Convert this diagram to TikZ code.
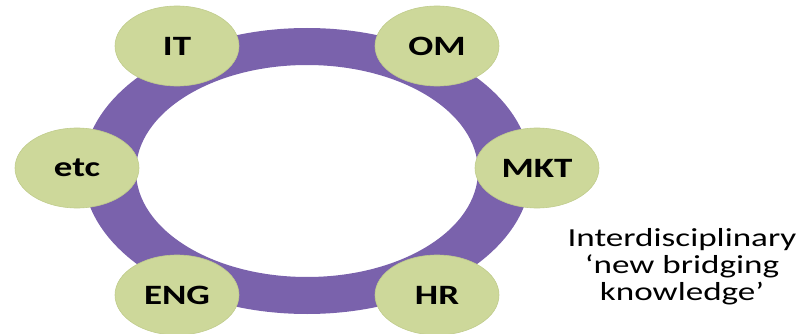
\documentclass[tikz,border=0pt]{standalone}
\usepackage{fontspec}
\setmainfont{Carlito}
\usetikzlibrary{shapes.geometric}
\definecolor{ringpurple}{HTML}{7A62AC}
\definecolor{discgreen}{HTML}{CDD89A}
\definecolor{discedge}{HTML}{C0CC8C}
\begin{document}
\begin{tikzpicture}[x=1pt,y=-1pt,
  disc/.style={ellipse, draw=discedge, line width=0.6pt, fill=discgreen, minimum width=124pt, minimum height=80pt, inner sep=0pt,
    font=\fontsize{28}{30}\selectfont\bfseries, text=black},
  note/.style={align=center, font=\fontsize{26}{27}\selectfont, text=black}]
\useasboundingbox (0,0) rectangle (803,334);
\fill[ringpurple, even odd rule] (307,171) ellipse [x radius=224, y radius=143]
  (307,171) ellipse [x radius=171, y radius=106];
\coordinate (ringc) at (307,171);
\node[disc] (it)  at (177,46)  {\scalebox{1.32}[1]{IT}};
\node[disc] (om)  at (437,46)  {\scalebox{1.32}[1]{OM}};
\node[disc] (etc) at (77,168)  {\scalebox{1.32}[1]{etc}};
\node[disc] (mkt) at (537,168) {\scalebox{1.32}[1]{MKT}};
\node[disc] (eng) at (177,295) {\scalebox{1.32}[1]{ENG}};
\node[disc] (hr)  at (437,295) {\scalebox{1.32}[1]{HR}};
\node[note] (txt) at (682,268) {\scalebox{1.35}[1]{\begin{tabular}{@{}c@{}}Interdisciplinary\\ ‘new bridging\\ knowledge’\end{tabular}}};
\end{tikzpicture}
\end{document}
